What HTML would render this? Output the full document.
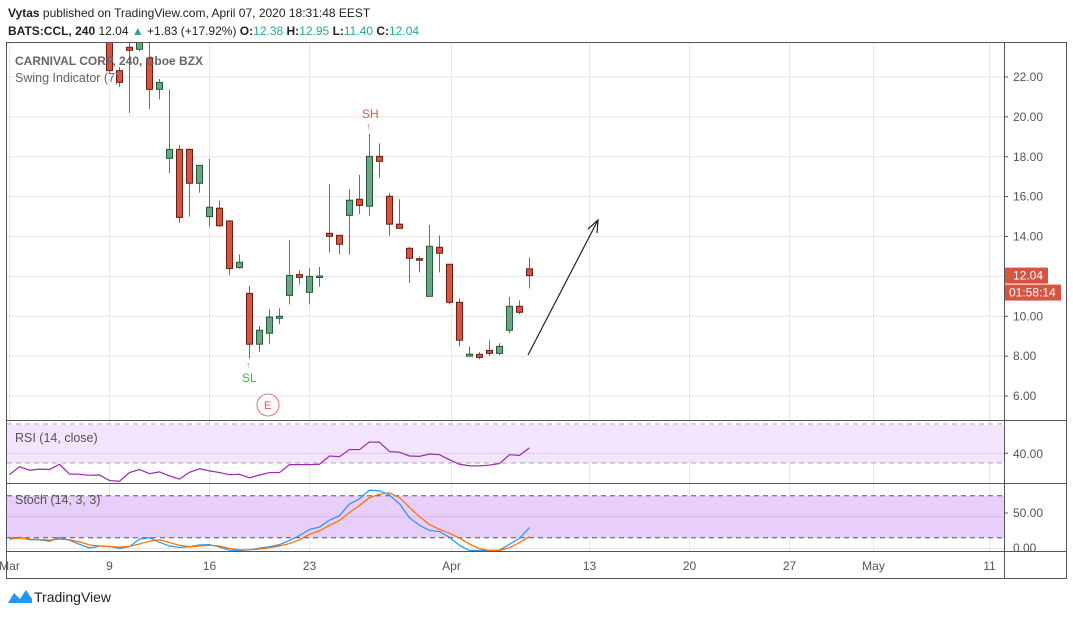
<!DOCTYPE html>
<html><head><meta charset="utf-8">
<style>
html,body{margin:0;padding:0;background:#fff;}
body{width:1073px;height:615px;overflow:hidden;font-family:"Liberation Sans",sans-serif;}
svg text{font-family:"Liberation Sans",sans-serif;}
</style></head>
<body>
<svg id="c" width="1073" height="615" xmlns="http://www.w3.org/2000/svg">
  <text x="8" y="17" font-size="12" fill="#222"><tspan font-weight="bold">Vytas</tspan> published on TradingView.com, April 07, 2020 18:31:48 EEST</text>
  <text x="8" y="35" font-size="12" fill="#222"><tspan font-weight="bold">BATS:CCL, 240</tspan> 12.04 <tspan fill="#26a69a">▲</tspan> +1.83 (+17.92%) <tspan font-weight="bold">O:</tspan><tspan fill="#26a69a">12.38</tspan> <tspan font-weight="bold">H:</tspan><tspan fill="#26a69a">12.95</tspan> <tspan font-weight="bold">L:</tspan><tspan fill="#26a69a">11.40</tspan> <tspan font-weight="bold">C:</tspan><tspan fill="#26a69a">12.04</tspan></text>
  <defs><clipPath id="mainClip"><rect x="7" y="43" width="997" height="377"/></clipPath></defs>
  <g id="grid"></g>
  <rect x="7" y="425" width="997" height="38" fill="#f3e5fd"/>
  <g id="bands"></g>
  <g id="main" clip-path="url(#mainClip)"></g>
  <g id="ind"></g>
  <g id="axes"></g>
  <g>
    <path d="M8 603 L14 593 L20 599 L26 590 L32 599 L32 603 Z" fill="#2196f3"/>
    <text x="34" y="602" font-size="14" fill="#222">TradingView</text>
  </g>
</svg>
<script>
// ---- data ----
const candleOpen  = [24.5,22.32,23.49,23.39,22.94,21.38,17.92,18.37,18.37,16.67,15.0,15.42,14.78,12.44,11.15,8.6,9.15,9.9,11.05,12.09,11.2,11.98,14.16,14.06,15.06,15.87,15.52,18.02,16.02,14.62,13.41,12.89,11.0,13.46,12.61,10.7,8.0,8.09,8.29,8.14,9.3,10.5,12.38];
const candleHigh  = [25.0,22.5,24.0,24.5,24.0,21.9,21.38,18.59,18.42,17.57,17.89,15.8,14.83,13.1,11.52,9.51,10.35,10.4,13.83,12.3,12.4,12.47,16.63,14.06,16.38,17.09,19.14,18.67,16.17,15.87,13.49,13.0,14.58,14.06,12.61,10.9,8.5,8.2,8.8,8.65,10.97,10.8,12.95];
const candleLow   = [22.2,21.5,20.2,23.3,20.4,20.88,17.17,14.69,15.0,16.2,14.49,14.49,12.07,12.39,7.89,8.22,8.6,9.6,10.6,11.6,10.6,11.48,13.19,13.09,13.09,15.13,15.04,16.95,14.04,14.41,11.68,12.2,11.0,12.2,10.6,8.5,8.0,7.85,8.0,8.05,9.14,10.1,11.4];
const candleClose = [22.32,21.73,23.34,23.9,21.38,21.73,18.37,14.96,16.67,17.57,15.47,14.54,12.39,12.71,8.6,9.3,9.96,10.0,12.05,11.95,12.0,12.02,14.01,13.61,15.82,15.56,18.02,17.77,14.62,14.41,12.91,12.81,13.51,13.16,10.7,8.8,8.1,7.94,8.14,8.49,10.5,10.2,12.04];
const rsiValues = [18.0,26.2,22.6,23.7,23.3,28.7,18.7,18.4,17.4,17.7,12.0,11.3,20.2,23.3,19.1,20.9,16.7,13.5,20.5,24.1,21.9,20.2,18.0,18.4,14.8,17.7,20.2,20.2,28.3,28.3,28.3,28.7,37.2,36.5,43.8,43.8,51.6,51.3,41.7,41.1,37.2,36.8,39.2,38.5,33.3,28.7,27.2,27.0,27.9,29.4,38.5,37.8,45.6];
const stochK = [16.6,17.5,14.3,14.3,12.4,17.5,13.8,8.3,3.2,6.0,5.5,2.8,5.1,15.2,17.0,11.0,6.0,4.1,5.1,7.4,7.8,4.6,0.5,0,0.9,3.2,5.1,7.8,13.4,19.8,28.1,31.3,40.5,46.4,62.1,69.0,80.5,79.5,74.0,62.1,43.7,33.6,26.7,25.3,17.5,6.9,0,0,0,0.5,8.3,16.1,30.8];
const stochD = [15.2,16.6,15.2,14.7,13.8,15.2,14.3,11.5,7.4,6.0,5.1,4.6,5.5,8.7,12.4,14.3,10.6,6.9,5.1,6.0,6.9,6.0,2.8,0.9,0.9,1.9,3.7,6.0,9.2,14.3,21.6,26.2,33.6,40.0,50.6,60.2,70.4,75.0,76.8,70.4,57.5,45.1,34.5,28.1,23.0,16.6,8.7,2.3,0,0,3.7,10.6,18.4];
const priceTicks = [22,20,18,16,14,12,10,8,6];
const dateLabels = ["Mar","9","16","23","Apr","13","20","27","May","11"];
const dateBarIdx = [-10,0,10,20,34.2,48,58,68,76.4,88];

// ---- scales ----
const xs = i => 109.5 + i*10;
const yP = p => 77 + (22-p)*19.94;
const yR = v => 463 - (v-30)*0.975;
const yS = v => 550.5 - v*0.75;
const NS="http://www.w3.org/2000/svg";
function mk(tag, attrs, parent){const e=document.createElementNS(NS,tag);for(const k in attrs)e.setAttribute(k,attrs[k]);parent.appendChild(e);return e;}
const grid=document.getElementById('grid'), main=document.getElementById('main'), ind=document.getElementById('ind'), axes=document.getElementById('axes'), bands=document.getElementById('bands');

dateBarIdx.forEach((b,i)=>{
  const x=xs(b);
  const l=mk('line',{x1:x,x2:x,y1:43,y2:551,stroke:'#e6e6e6','stroke-width':1},grid);
  
  
  const t=mk('text',{x:x,y:570,'font-size':12,fill:'#555','text-anchor':'middle'},axes);
  t.textContent=dateLabels[i];
  
  
});
priceTicks.forEach(p=>{
  const y=yP(p);
  const l=mk('line',{x1:7,x2:1004,y1:y,y2:y,stroke:'#e6e6e6','stroke-width':1},grid);
  
  
  mk('line',{x1:1004,x2:1008,y1:y,y2:y,stroke:'#555'},axes);
  const t=mk('text',{x:1013,y:y+4,'font-size':12,fill:'#555'},axes);
  t.textContent=p.toFixed(2);
  
  
});

for(let i=0;i<candleOpen.length;i++){
  const x=xs(i), up=candleClose[i]>=candleOpen[i];
  const w=mk('line',{x1:x,x2:x,y1:yP(candleHigh[i]),y2:yP(candleLow[i]),stroke:'#6b6b6b','stroke-width':1},main);
  
  
  const top=yP(Math.max(candleOpen[i],candleClose[i])), bot=yP(Math.min(candleOpen[i],candleClose[i]));
  const r=mk('rect',{x:x-3,y:top,width:6,height:Math.max(1.5,bot-top),fill:up?'#6ba583':'#d75442',stroke:up?'#225b37':'#6d1e14','stroke-width':1},main);
  
  
}
const lbl=(txt,x,y,sz,fill,bold,name)=>{const t=mk('text',{x:x,y:y,'font-size':sz,fill:fill,'font-weight':bold?'bold':'normal'},axes);t.textContent=txt;};
lbl('CARNIVAL CORP, 240, Cboe BZX',15,65,12,'#666',true,'main-title');
lbl('Swing Indicator (7)',15,82,12.5,'#666',false,'swing-indicator-label');
lbl('SH',362,118,12,'#f05050',false,'swing-high-label');
lbl('↑',366,129,9,'#f05050',false,'swing-high-arrow');
lbl('↑',246,368,9,'#4caf50',false,'swing-low-arrow');
lbl('SL',242,382,12,'#4caf50',false,'swing-low-label');
const ec=mk('circle',{cx:268,cy:405,r:11,fill:'#fff',stroke:'#f07070','stroke-width':1},axes);


lbl('E',264,409,11,'#f05050',false,'earnings-letter');
const ar=mk('line',{x1:528,y1:355,x2:598,y2:220,stroke:'#222','stroke-width':1.2},axes);


mk('path',{d:'M588 229 L598 220 L597 233',fill:'none',stroke:'#222','stroke-width':1.2},axes);

[70,30].forEach(v=>{const l=mk('line',{x1:7,x2:1004,y1:yR(v),y2:yR(v),stroke:'#aaa','stroke-dasharray':'5,4'},bands);});
mk('line',{x1:7,x2:1004,y1:yR(40),y2:yR(40),stroke:'#d8cbe8'},bands);
let pts=rsiValues.map((v,i)=>xs(i-10)+','+yR(v)).join(' ');
const rl=mk('polyline',{points:pts,fill:'none',stroke:'#9c27b0','stroke-width':1.2},ind);


lbl('RSI (14, close)',15,442,12.5,'#555',false,'rsi-label');
lbl('40.00',1013,458,12,'#555',false,'rsi-tick-label');
mk('line',{x1:1004,x2:1008,y1:yR(40),y2:yR(40),stroke:'#555'},axes);

const sb=mk('rect',{x:7,y:yS(73),width:997,height:yS(17)-yS(73),fill:'#e8cffa'},bands);


[73,17].forEach(v=>{const l=mk('line',{x1:7,x2:1004,y1:yS(v),y2:yS(v),stroke:'#555','stroke-dasharray':'5,4'},bands);});
mk('line',{x1:7,x2:1004,y1:yS(45),y2:yS(45),stroke:'#d6b9ee'},bands);
mk('line',{x1:7,x2:1004,y1:yS(0)-2,y2:yS(0)-2,stroke:'#e6e6e6'},bands);
pts=stochK.map((v,i)=>xs(i-10)+','+yS(v)).join(' ');
const kl=mk('polyline',{points:pts,fill:'none',stroke:'#2196f3','stroke-width':1.2},ind);


pts=stochD.map((v,i)=>xs(i-10)+','+yS(v)).join(' ');
const dl=mk('polyline',{points:pts,fill:'none',stroke:'#ff6d00','stroke-width':1.2},ind);


lbl('Stoch (14, 3, 3)',15,504,12.5,'#555',false,'stoch-label');
lbl('50.00',1013,517,12,'#555',false,'stoch-tick-label');
lbl('0.00',1013,552,12,'#555',false,'stoch-tick-label');
mk('line',{x1:1004,x2:1008,y1:yS(50),y2:yS(50),stroke:'#555'},axes);

const fr=(x,y,w,h)=>mk('rect',{x:x,y:y,width:w,height:h,fill:'none',stroke:'#555','stroke-width':1},axes);
fr(6.5,42.5,1060,536);
mk('line',{x1:1004.5,x2:1004.5,y1:42,y2:578,stroke:'#555'},axes);
[420.5,483.5,551.5].forEach(y=>mk('line',{x1:6,x2:1066,y1:y,y2:y,stroke:'#555'},axes));
const pl=mk('rect',{x:1005,y:yP(12.04)-8,width:43,height:16,fill:'#d75442'},axes);


lbl('12.04',1013,yP(12.04)+4,12,'#fff',false,'last-price-text');
const tl=mk('rect',{x:1005,y:yP(12.04)+9,width:56,height:16,fill:'#d75442'},axes);


lbl('01:58:14',1009,yP(12.04)+21,12,'#fff',false,'countdown-text');
</script>
</body></html>
